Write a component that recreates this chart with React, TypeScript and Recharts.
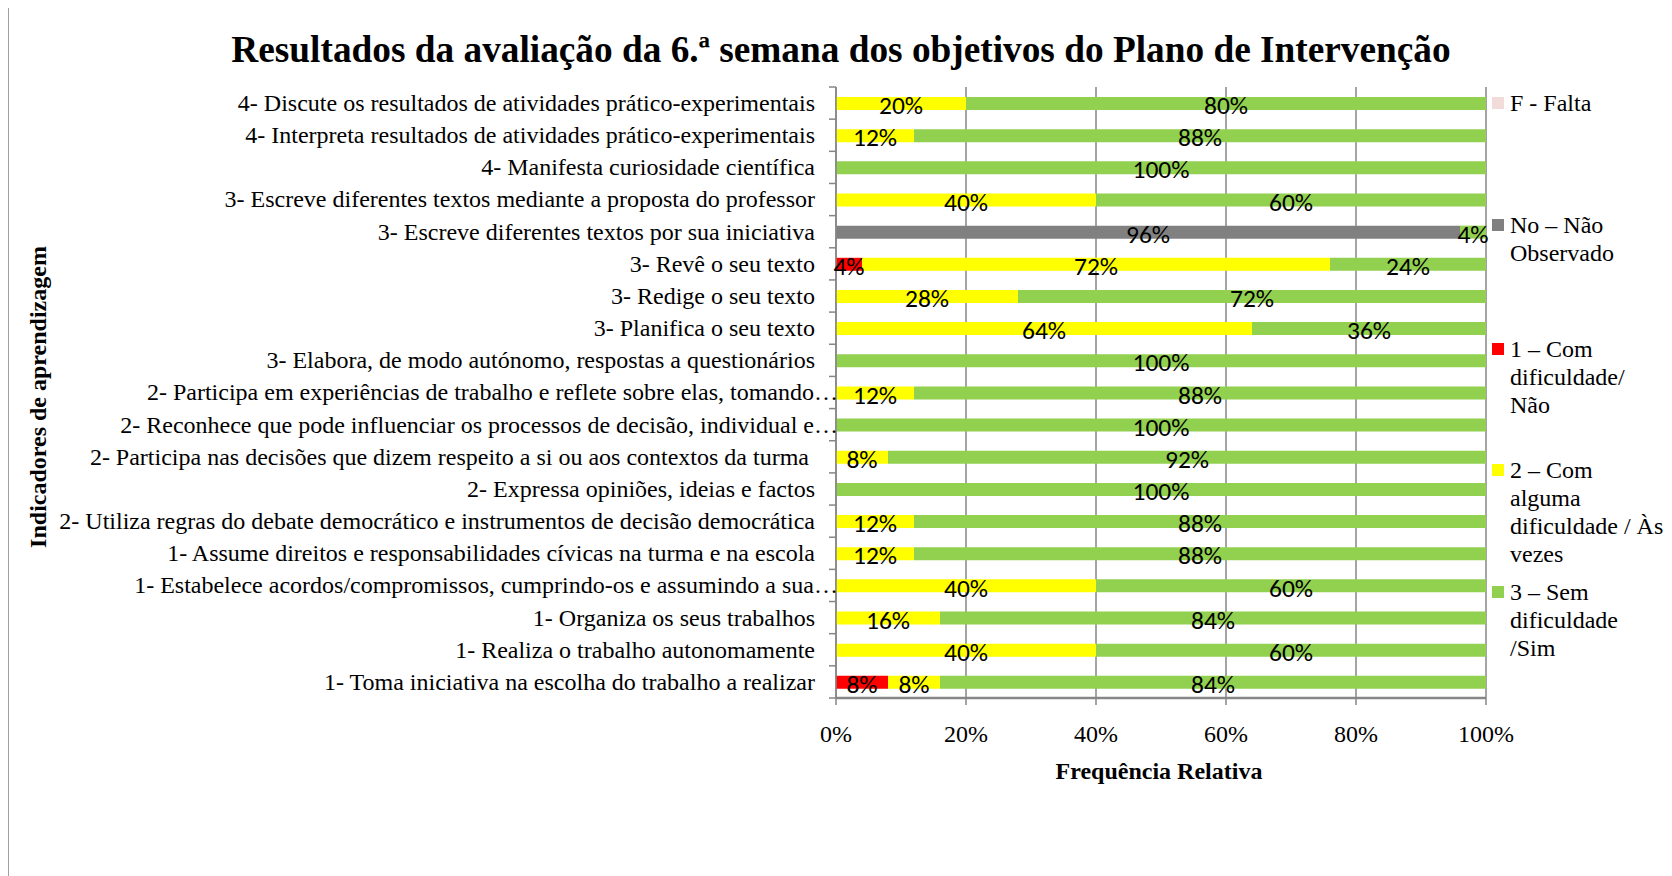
import React from "react";
import {
  BarChart,
  Bar,
  XAxis,
  YAxis,
  CartesianGrid,
  LabelList,
} from "recharts";

const categories = [
  "4- Discute os resultados de atividades prático-experimentais",
  "4- Interpreta resultados de atividades prático-experimentais",
  "4- Manifesta curiosidade científica",
  "3- Escreve diferentes textos mediante a proposta do professor",
  "3- Escreve diferentes textos por sua iniciativa",
  "3- Revê o seu texto",
  "3- Redige o seu texto",
  "3- Planifica o seu texto",
  "3- Elabora, de modo autónomo, respostas a questionários",
  "2- Participa em experiências de trabalho e reflete sobre elas, tomando…",
  "2- Reconhece que pode influenciar os processos de decisão, individual e…",
  "2- Participa nas decisões que dizem respeito a si ou aos contextos da turma ",
  "2- Expressa opiniões, ideias e factos",
  "2- Utiliza regras do debate democrático e instrumentos de decisão democrática",
  "1- Assume direitos e responsabilidades cívicas na turma e na escola",
  "1- Estabelece acordos/compromissos, cumprindo-os e assumindo a sua…",
  "1- Organiza os seus trabalhos",
  "1- Realiza o trabalho autonomamente",
  "1- Toma iniciativa na escolha do trabalho a realizar",
];

const falta = [0, 0, 0, 0, 0, 0, 0, 0, 0, 0, 0, 0, 0, 0, 0, 0, 0, 0, 0];
const naoObservado = [0, 0, 0, 0, 96, 0, 0, 0, 0, 0, 0, 0, 0, 0, 0, 0, 0, 0, 0];
const comDificuldade = [0, 0, 0, 0, 0, 4, 0, 0, 0, 0, 0, 0, 0, 0, 0, 0, 0, 0, 8];
const algumaDificuldade = [20, 12, 0, 40, 0, 72, 28, 64, 0, 12, 0, 8, 0, 12, 12, 40, 16, 40, 8];
const semDificuldade = [80, 88, 100, 60, 4, 24, 72, 36, 100, 88, 100, 92, 100, 88, 88, 60, 84, 60, 84];

const xTicks = [0, 20, 40, 60, 80, 100];

const series = [
  { key: "falta", name: "F - Falta", color: "#f2dcdb" },
  { key: "naoObservado", name: "No – Não\nObservado", color: "#808080" },
  { key: "comDificuldade", name: "1 – Com\ndificuldade/\nNão", color: "#ff0000" },
  { key: "algumaDificuldade", name: "2 – Com\nalguma\ndificuldade / Às\nvezes", color: "#ffff00" },
  { key: "semDificuldade", name: "3 – Sem\ndificuldade\n/Sim", color: "#92d050" },
];

const data = categories.map((name, i) => ({
  name,
  falta: falta[i],
  naoObservado: naoObservado[i],
  comDificuldade: comDificuldade[i],
  algumaDificuldade: algumaDificuldade[i],
  semDificuldade: semDificuldade[i],
}));

const W = 1664;
const H = 868;
const PLOT_TOP = 79;
const PLOT_H = 611;
const Y_AXIS_W = 828;
const X_AXIS_H = 60;
const SERIF = "'Liberation Serif', 'Times New Roman', serif";
const LABEL_FONT = "Carlito, Calibri, 'Open Sans', sans-serif";
const GRID = "#868686";
const HALF_BAND = PLOT_H / categories.length / 2;

// Excel lets the ellipsis of cut-off labels run up to the axis
function CategoryTick(props: any) {
  const { x, y, payload, index } = props;
  const ax = x + 21;
  const last = index === categories.length - 1;
  const cut = String(payload.value).endsWith("…");
  return (
    <g>
      <line x1={ax - 7} x2={ax} y1={y - HALF_BAND} y2={y - HALF_BAND} stroke={GRID} strokeWidth={1.5} />
      {last && (
        <line x1={ax - 7} x2={ax} y1={y + HALF_BAND} y2={y + HALF_BAND} stroke={GRID} strokeWidth={1.5} />
      )}
      <text
        x={cut ? ax + 2 : x}
        y={y}
        dy="0.33em"
        textAnchor="end"
        fontFamily={SERIF}
        fontSize={24}
        fill="#000"
        style={{ whiteSpace: "pre" }}
      >
        {payload.value}
      </text>
    </g>
  );
}

function ValueLabel(props: any) {
  const { x, y, width, height, value } = props;
  if (!value) return null;
  return (
    <text
      x={x + width / 2}
      y={y + height / 2 + 2}
      dy="0.34em"
      textAnchor="middle"
      fontFamily={LABEL_FONT}
      fontSize={25.5}
      fill="#000"
    >
      {`${value}%`}
    </text>
  );
}

const legendTops = [95, 217, 341, 462, 584];

export default function App() {
  return (
    <div style={{ position: "relative", width: W, height: H, fontFamily: SERIF }}>
      <div
        style={{
          position: "absolute",
          left: 0,
          top: -1,
          width: W,
          height: H + 1,
          boxSizing: "border-box",
          borderTop: "1.5px solid #a0a0a0",
          borderLeft: "1.5px solid #a0a0a0",
          pointerEvents: "none",
        }}
      />
      <div
        style={{
          position: "absolute",
          left: 0,
          top: 20,
          width: 1666,
          textAlign: "center",
          fontSize: 37.3,
          fontWeight: "bold",
          lineHeight: "44px",
          whiteSpace: "nowrap",
        }}
      >
        Resultados da avaliação da 6.ª semana dos objetivos do Plano de Intervenção
      </div>
      <div
        style={{
          position: "absolute",
          left: 30,
          top: 389,
          transform: "translate(-50%, -50%) rotate(-90deg)",
          fontSize: 24,
          fontWeight: "bold",
          whiteSpace: "nowrap",
          lineHeight: "28px",
        }}
      >
        Indicadores de aprendizagem
      </div>
      <div
        style={{
          position: "absolute",
          left: 1151,
          top: 763,
          transform: "translate(-50%, -50%)",
          fontSize: 24,
          fontWeight: "bold",
          whiteSpace: "nowrap",
          lineHeight: "28px",
        }}
      >
        Frequência Relativa
      </div>
      {series.map((s, i) => (
        <div key={s.key} style={{ position: "absolute", left: 1484, top: legendTops[i] - 14 }}>
          <div
            style={{
              position: "absolute",
              left: 0,
              top: 8,
              width: 12,
              height: 12,
              background: s.color,
            }}
          />
          <div
            style={{
              position: "absolute",
              left: 18,
              top: 0,
              fontSize: 24,
              lineHeight: "28px",
              whiteSpace: "pre",
            }}
          >
            {s.name}
          </div>
        </div>
      ))}
      <div style={{ position: "absolute", left: 0, top: 0 }}>
        <BarChart
          width={W}
          height={H}
          data={data}
          layout="vertical"
          barSize={13}
          margin={{ top: PLOT_TOP, right: W - Y_AXIS_W - 650, bottom: H - PLOT_TOP - PLOT_H - X_AXIS_H, left: 0 }}
        >
          <CartesianGrid horizontal={false} stroke={GRID} strokeWidth={1.5} />
          <XAxis
            type="number"
            domain={[0, 100]}
            ticks={xTicks}
            height={X_AXIS_H}
            tickFormatter={(v: number) => `${v}%`}
            tickSize={7}
            tickMargin={20}
            axisLine={{ stroke: GRID, strokeWidth: 2.5 }}
            tickLine={{ stroke: GRID, strokeWidth: 1.5 }}
            tick={{ fontFamily: SERIF, fontSize: 24, fill: "#000" }}
            interval={0}
          />
          <YAxis
            type="category"
            dataKey="name"
            width={Y_AXIS_W}
            tickSize={0}
            tickMargin={21}
            tickLine={false}
            axisLine={{ stroke: GRID, strokeWidth: 1.5 }}
            tick={<CategoryTick />}
            interval={0}
          />
          {series.map((s) => (
            <Bar
              key={s.key}
              dataKey={s.key}
              stackId="a"
              fill={s.color}
              isAnimationActive={false}
            >
              <LabelList dataKey={s.key} content={<ValueLabel />} />
            </Bar>
          ))}
        </BarChart>
      </div>
    </div>
  );
}
